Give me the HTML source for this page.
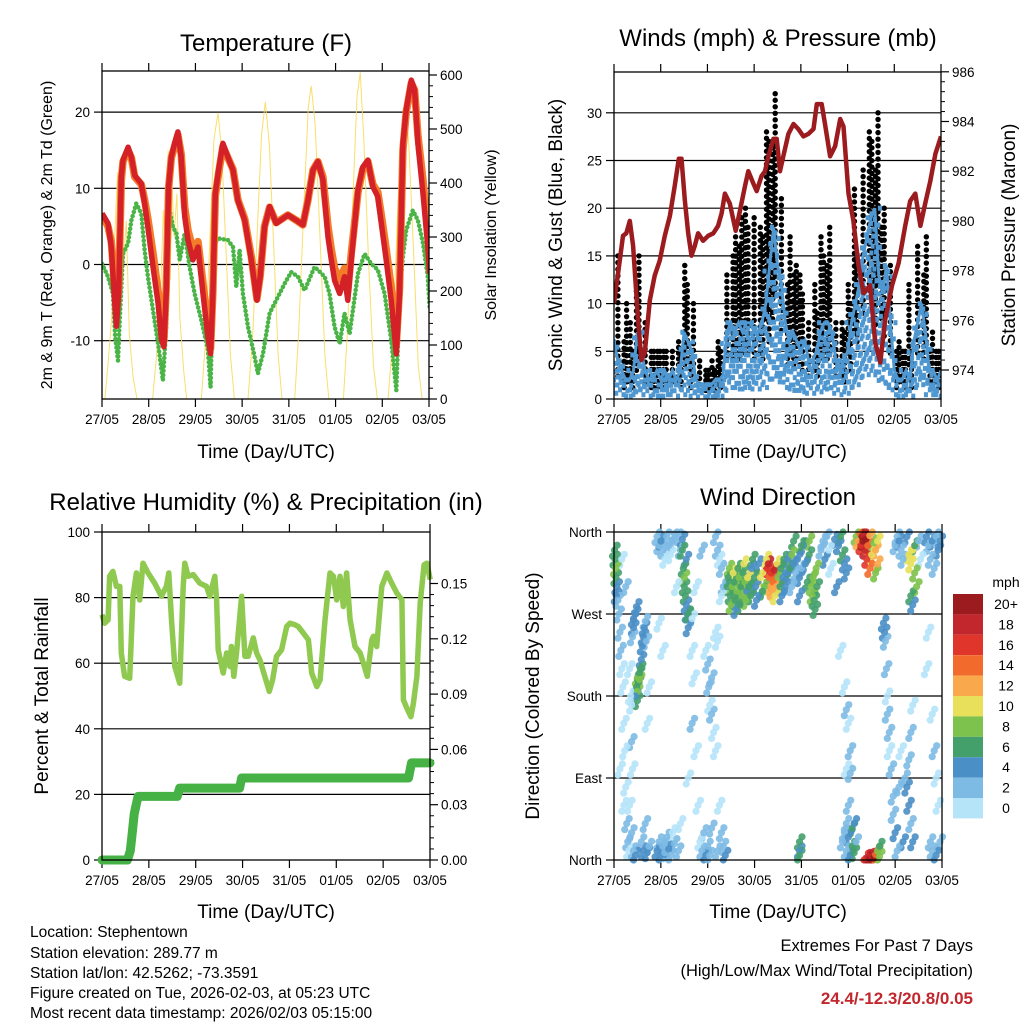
<!DOCTYPE html>
<html><head><meta charset="utf-8">
<style>
html,body{margin:0;padding:0;background:#fff;}
svg{display:block;font-family:"Liberation Sans",Arial,sans-serif;}
</style></head>
<body>
<svg id="fig" width="1024" height="1024" viewBox="0 0 1024 1024" xmlns="http://www.w3.org/2000/svg">
<rect width="1024" height="1024" fill="#fff"/>
<g id="titles" font-size="24" text-anchor="middle" fill="#000">
<text x="266" y="51">Temperature (F)</text>
<text x="778" y="46">Winds (mph) &amp; Pressure (mb)</text>
<text x="266" y="510">Relative Humidity (%) &amp; Precipitation (in)</text>
<text x="778" y="505">Wind Direction</text>
</g>
<g font-size="19" text-anchor="middle">
<text x="266" y="458">Time (Day/UTC)</text>
<text x="778" y="458">Time (Day/UTC)</text>
<text x="266" y="918">Time (Day/UTC)</text>
<text x="778" y="918">Time (Day/UTC)</text>
<text transform="translate(52,235) rotate(-90)" font-size="16">2m &amp; 9m T (Red, Orange) &amp; 2m Td (Green)</text>
<text transform="translate(496,235) rotate(-90)" font-size="16">Solar Insolation (Yellow)</text>
<text transform="translate(562,235) rotate(-90)">Sonic Wind &amp; Gust (Blue, Black)</text>
<text transform="translate(1015,235) rotate(-90)">Station Pressure (Maroon)</text>
<text transform="translate(48,696) rotate(-90)">Percent &amp; Total Rainfall</text>
<text transform="translate(539,696) rotate(-90)">Direction (Colored By Speed)</text>
</g>
<g font-size="15.5" fill="#000">
<text x="30" y="937">Location: Stephentown</text>
<text x="30" y="958">Station elevation: 289.77 m</text>
<text x="30" y="978">Station lat/lon: 42.5262; -73.3591</text>
<text x="30" y="998">Figure created on Tue, 2026-02-03, at 05:23 UTC</text>
<text x="30" y="1018">Most recent data timestamp: 2026/02/03 05:15:00</text>
<text x="973" y="951" text-anchor="end" font-size="16.5">Extremes For Past 7 Days</text>
<text x="973" y="976" text-anchor="end" font-size="16.5">(High/Low/Max Wind/Total Precipitation)</text>
<text x="973" y="1004" text-anchor="end" font-size="17" font-weight="bold" fill="#c1272d">24.4/-12.3/20.8/0.05</text>
</g>
</svg>
<script>
// ---------- DATA ----------
const dayLabels = ['27/05','28/05','29/05','30/05','31/05','01/05','02/05','03/05'];
const tempTicks = [-10,0,10,20];
const solarTicks = [0,100,200,300,400,500,600];
const windTicks = [0,5,10,15,20,25,30];
const pressTicks = [974,976,978,980,982,984,986];
const rhTicks = [0,20,40,60,80,100];
const rainTicks = [0,0.03,0.06,0.09,0.12,0.15];
const rainTickLabels = ['0.00','0.03','0.06','0.09','0.12','0.15'];
const dirTicks = [0,90,180,270,360];
const dirTickLabels = ['North','East','South','West','North'];

const redTimes = [0,3.1,4.8,6.2,7.4,8.6,9.9,10.8,13.4,15.1,16.8,20.2,21.9,23.6,26.2,28.8,30.5,31.8,33.0,34.2,35.6,37.3,39.0,40.7,42.5,44.2,46.7,49.3,51.9,54.4,55.8,57.0,58.2,59.9,62.1,64.7,67.3,69.8,73.3,76.7,79.6,81.3,83.5,86.1,89.5,95.5,99.8,103.2,105.8,108.4,110.9,113.5,116.1,117.8,119.5,122.1,124.6,126.3,128.1,131.5,134.0,136.6,139.2,141.7,143.5,146.0,148.6,151.2,152.9,154.6,156.3,158.9,160.6,162.3,164.9,167.4,168.3];
const redTemp = [6.7,5.4,2.3,-3.8,-8.1,-3.8,11.5,13.7,15.4,14.1,11.7,10.6,8.0,4.9,-0.3,-5.1,-9.9,-10.8,-3.8,10.2,14.1,15.9,17.4,14.1,6.3,3.2,0.6,2.3,-3.8,-9.5,-11.7,-3.8,9.3,12.4,15.9,14.1,12.4,8.4,5.8,0.6,-4.7,-1.6,4.9,7.6,5.4,6.5,5.8,5.2,8.4,12.4,13.5,11.1,3.6,0.6,-2.1,-3.8,-1.6,-4.7,0.6,9.8,12.8,13.7,10.2,8.9,5.4,0.6,-4.7,-11.7,-3.8,15.9,20.3,24.2,22.9,15.9,9.3,2.3,-1.2];
const orangeTemp = [6.5,5.0,3.0,-2.0,-6.0,-3.0,11.0,13.5,15.0,14.0,11.5,10.5,8.5,6.0,1.5,-3.5,-8.0,-10.0,-3.0,10.0,14.0,15.5,17.0,14.5,7.5,4.5,2.0,3.0,-2.5,-8.0,-11.0,-3.5,9.0,12.0,15.5,14.0,12.5,8.5,6.0,1.0,-4.5,-1.5,5.0,7.5,5.5,6.5,5.8,5.2,8.4,12.4,13.5,11.5,5.0,2.0,-0.5,-2.0,-0.5,-3.5,1.5,9.5,12.5,13.5,10.5,9.5,6.5,2.0,-3.0,-10.5,-3.0,15.0,20.0,23.8,22.9,17.0,11.0,4.5,0.5];
const dewTimes = [0,3.1,5.6,6.8,8.2,9.1,10.8,13.4,15.1,17.6,20.2,21.9,23.6,26.2,28.8,31.3,33.0,34.8,36.5,38.2,39.9,42.5,45.0,47.6,51.0,54.4,55.8,57.5,60.4,64.7,67.3,69.0,70.7,72.4,75.0,78.1,80.1,82.7,86.1,89.5,93.8,97.2,100.7,104.1,109.2,114.4,116.9,119.5,122.1,124.6,127.2,131.5,134.9,138.3,141.7,145.2,148.6,151.2,152.9,154.6,156.3,159.7,162.3,164.9,167.4,168.3];
const dewTemp = [0.1,-1.6,-3.8,-9.5,-12.6,-7.3,1.4,2.8,5.8,8.0,6.7,1.9,-1.6,-6.0,-10.4,-15.2,-8.2,7.1,4.9,4.1,0.6,4.1,-0.3,-3.8,-7.3,-11.2,-16.1,2.8,3.4,3.2,2.3,-2.9,1.9,-3.8,-8.2,-11.7,-14.3,-11.7,-6.4,-4.7,-2.5,-1.0,-1.6,-3.4,-0.3,-1.6,-3.8,-8.2,-10.4,-6.4,-9.1,-1.2,1.4,0.1,-0.7,-3.8,-9.9,-16.5,-3.8,1.0,4.5,7.1,5.8,2.8,-1.6,-5.6];
const solarTimes = [0,1.5,3,5,6.5,8,9,10,11,12.5,14,16,18,26,28,30,31.5,33,34,35,36,37,38.5,40,42,43.5,51,53,55.5,57.5,59.6,61.5,64,66,68,75,77.5,80,82,83.9,86,88,90.5,92.5,99,101,104,106,107.5,109.5,112,114.5,116.5,124,126,129,131,132.7,134.5,137,139.5,141.5,147,149.5,152,154,155.8,157.5,160,162.5,164.5,168.5];
const solarVals = [0,0,60,150,300,420,200,430,250,330,120,40,0,0,80,180,350,250,460,220,400,300,380,150,50,0,0,100,300,480,530,460,250,80,0,0,120,330,490,550,470,300,80,0,0,120,380,540,580,510,300,80,0,0,120,380,560,605,480,250,60,0,0,120,360,500,545,480,280,60,0,0];

const windTimes = [0,2,4,6,8,10,12,14,16,18,20,22,24,26,28,30,32,34,36,38,40,42,44,46,48,50,52,54,56,58,60,62,64,66,68,70,72,74,76,78,80,82,84,86,88,90,92,94,96,98,100,102,104,106,108,110,112,114,116,118,120,122,124,126,128,130,132,134,136,138,140,142,144,146,148,150,152,154,156,158,160,162,164,166,168];
const windSpeed = [6,4,3,2,2,3,7,5,3,2,2,3,2,3,2,3,2,3,7,6,5,2,1.5,1.5,1.5,1.5,2,2,2.5,7,8,7,8,7,8,8,7,7,8,10,14,18,14,12,8,6,7,6,5,6,4,4,5,7,8,8,7,4,3,4,5,8,10,12,15,17,19,20,13,11,14,8,3,2,2,3,2,6,8,10,7,3,3,2,3];
const gustSpeed = [12,15,10,6,5,8,15,12,8,5,5,5,5,5,5,5,5,6,12,14,10,5,4,3,3,3,4,5,6,13,17,15,19,16,18,20,19,17,18,27,28,32,27,21,17,12,14,13,11,13,8,9,12,15,17,18,14,8,7,8,10,12,15,22,24,27,28,30,24,20,18,14,6,5,5,5,5,12,16,17,13,7,5,5,5];
const pressTimes = [0,2.1,4.6,6.3,8.1,9.8,12.4,14.1,15.8,18.4,20.9,23.5,26.1,28.7,31.2,33.3,34.7,36.4,38.1,39.8,41.5,43.2,45.8,48.4,51.0,53.5,55.3,57.0,59.5,62.5,64.7,67.3,69.0,71.6,73.3,75.8,77.6,79.3,81.9,83.6,85.3,87.0,89.6,92.2,94.7,97.3,99.9,102.5,104.2,106.7,108.4,111.0,113.6,116.2,117.9,120.5,123.0,125.6,128.2,131.6,134.2,136.8,139.3,142.8,146.2,149.6,152.2,154.8,157.4,159.9,162.5,165.1,168.0];
const pressVals = [976.7,977.9,979.4,979.5,980.0,979.0,976.0,974.4,974.7,976.8,977.8,978.4,979.4,980.2,981.4,982.5,982.5,980.8,979.5,978.6,979.0,979.5,979.2,979.4,979.5,979.8,980.3,981.1,980.7,979.6,980.4,981.4,982.0,981.5,981.2,981.8,982.0,982.6,983.3,983.3,982.0,982.6,983.5,983.9,983.7,983.4,983.5,983.7,984.7,984.7,983.9,982.6,983.0,984.1,983.8,981.1,980.0,978.2,977.1,977.4,975.1,974.3,976.0,977.4,978.3,979.8,980.8,981.1,979.8,980.7,981.6,982.7,983.4];

const rhTimes = [0,1.4,3.1,3.9,5.6,7.4,9.1,9.9,11.6,14.2,15.9,17.6,19.3,21.0,23.6,27.0,30.4,33.0,34.2,35.6,37.3,39.8,41.6,42.4,44.1,46.7,50.1,53.5,55.2,57.8,58.7,59.5,62.1,63.8,65.5,66.3,67.5,68.9,71.5,73.2,74.9,77.5,79.2,80.9,83.4,85.7,87.4,89.4,92.0,94.6,96.3,98.8,100.5,103.1,105.7,107.4,110.0,111.7,114.2,116.8,118.5,120.2,121.9,123.6,125.3,127.1,129.6,132.2,133.9,135.9,138.2,139.0,140.7,143.3,145.9,148.4,151.0,153.6,154.4,156.1,158.2,159.5,161.3,163.0,165.0,166.4,168.1];
const rhVals = [74.8,72.2,73.2,86.5,88.0,83.4,83.4,63.1,56.0,55.4,80.4,87.5,79.3,90.5,87.5,84.4,80.4,83.4,87.5,73.2,59.0,53.9,83.4,90.5,86.5,87.0,84.4,83.4,80.4,86.5,79.3,64.1,57.0,63.1,59.0,65.1,56.0,63.1,80.4,62.1,62.1,67.7,63.1,61.0,56.0,51.4,54.9,62.1,64.1,71.2,72.2,71.7,71.2,69.2,67.1,57.0,52.9,54.9,73.2,87.5,86.5,79.3,86.5,77.3,87.5,73.2,65.1,63.1,60.0,56.0,67.1,68.2,65.1,83.4,87.5,84.4,81.4,79.3,48.8,46.3,43.7,47.8,56.0,78.3,90.0,90.5,85.5];
const rainTimes = [0,13,14.5,15.5,16.5,17.5,18.5,38.5,39.8,70.5,71.5,157,158.5,168];
const rainVals = [0,0,0.005,0.015,0.025,0.03,0.0345,0.0345,0.039,0.039,0.0445,0.0445,0.0527,0.0527];

const dirTimes = [0.5,0.8,1.0,1.5,0.3,1.2,2,2.5,3,3.5,4,4.5,5,5.5,6,6.5,7,7.5,4,6,3,5,10,10,9.5,11,11.5,11.6,12,12.5,13,13.5,12,13,14,14.5,15,15.5,16,16.5,12,11,8,8.5,9,9,9.5,8,9,10,11,14,15,16,17,18,17,18,22,23,24,25,26,27,28,29,30,31,33,34,32,23,25,22,23,24,25,26,27,28,29,30,31,33,34,35,35.5,36,36.5,37,37.5,36,37,38,38,35,40,41,42,43,38,40,44,45,46,47,48,40,42,45,47,48,48.5,49,50,50,51,52,52,53,54,55,56,57,53,50,49,52,53,54,55,56,55,58,58.5,59,59.5,60,60.5,61,61.5,62,62.5,63,63.5,64,64.5,65,65.5,66,66.5,67,67.5,68,68.5,69,70,70.5,71,72,72.5,73,78,78.5,79,79.5,80,80.5,81,81.5,82,82.5,83,83.5,84,85,85.5,86,86.5,87,88,89,77,76,75,74,89,90,91,92,93,94,95,96,97,98,99,100,101,101.5,102,102.5,103,103.5,104,100,96,91,95,92,95,95,95,106,107,108,109,110,111,113,115,116,117,118,119,114,116,118,119,120,121,119,121,120,119,118,117,119,121,120,122,122,123,124,123,124,125,126,126.5,127,127.5,128,128.5,129,129.5,130,131,132,131,133,134,135,134,135,129,130,131,132,133,134,135,136,136,138,138.5,139,139.5,140,140,141,141,142,143,143,144,145,144,145,146,147,148,147,146,148,151,152,153,154,155,154,152,153,150,156,157,150,151,152,153,151,152,153,149,160,161,162,163,164,165,166,167,163,164,165,166,162,163,165,167,160,161];
const dirVals = [330,320,310,300,340,290,285,270,250,230,210,190,150,120,80,40,20,10,330,300,100,60,255,265,245,270,278,190,200,195,205,210,185,198,220,235,245,255,262,240,175,180,210,180,170,130,100,60,30,10,5,20,10,40,8,15,150,190,355,345,350,340,330,355,345,335,350,358,355,340,300,260,230,10,20,5,15,8,25,12,5,30,18,10,40,340,320,300,290,280,270,310,330,255,270,352,230,200,120,60,90,150,20,10,30,5,15,265,300,340,230,215,190,170,200,160,140,120,250,240,60,30,15,5,10,35,5,355,340,330,320,300,290,300,310,320,290,280,300,315,305,285,275,295,320,310,280,300,290,315,325,305,285,295,310,300,290,320,330,310,300,285,330,320,325,310,300,315,295,305,318,290,300,325,310,300,320,290,310,330,300,315,300,295,310,325,330,320,335,325,315,330,310,320,345,325,305,335,300,290,310,285,275,320,300,350,345,300,290,350,20,10,5,340,350,330,355,340,320,352,345,355,335,325,315,300,230,190,165,150,120,100,95,60,40,30,20,10,5,25,15,35,8,20,40,355,350,358,345,355,350,357,340,352,330,345,356,335,320,348,340,325,315,350,2,3,1,4,2,6,10,4,15,260,250,240,210,180,160,140,120,100,70,50,30,10,345,355,350,340,330,120,80,20,335,325,340,315,300,345,290,280,355,350,330,80,60,40,20,110,140,170,90,355,345,330,350,320,355,340,350,160,120,90,60,20,10,5,20,210,250];
const dirSpeed = [7,8,6,5,7,4,3,2,2,3,1,0,1,0,1,2,3,1,1,2,1,0,4,4,3,4,4,7,8,6,7,6,9,8,4,4,4,4,3,3,7,5,1,0,1,2,1,1,2,3,4,3,4,2,4,3,0,1,3,2,4,2,1,3,2,1,3,2,2,3,1,1,0,4,3,4,2,3,2,4,3,1,2,3,1,6,7,6,6,5,5,8,4,4,7,5,1,1,1,1,1,2,1,3,2,4,2,1,0,2,1,2,2,1,3,2,1,0,1,0,1,3,2,4,3,2,3,2,3,1,2,2,1,6,7,9,6,8,9,10,7,6,5,8,6,9,7,6,8,6,10,9,8,5,10,6,7,5,7,6,4,5,10,16,18,14,12,17,12,15,19,11,13,10,8,6,6,5,4,6,5,4,8,6,10,5,4,6,8,4,3,4,4,3,5,4,6,7,8,8,9,7,6,8,7,8,7,3,5,6,6,4,6,2,3,4,2,1,1,4,5,6,7,5,4,4,1,1,2,1,3,1,2,2,3,2,2,3,4,4,6,7,7,3,4,8,12,14,17,20,21,19,18,20,16,14,12,10,15,9,12,12,8,10,17,19,20,18,21,14,9,8,6,4,4,3,2,1,2,2,1,2,3,3,4,2,2,3,4,2,3,1,2,4,10,10,11,9,8,6,6,5,4,3,1,4,4,3,4,2,2,1,2,4,2,3,4,2,3,4,4,1,2,1,1,2,3,4,2,1,1];
const speedBinLabels = ['0','2','4','6','8','10','12','14','16','18','20+'];
const speedColors = ['#b5e3f8','#7dbae4','#4a8fc6','#44a06b','#7dc24c','#e8e05a','#f9a94b','#f26a2c','#e0352b','#c1272d','#9b1b1e'];

// ---------- HELPERS ----------
const NS='http://www.w3.org/2000/svg';
const svg=document.getElementById('fig');
function mk(tag, attrs, parent){const e=document.createElementNS(NS,tag);for(const k in attrs)e.setAttribute(k,attrs[k]);(parent||svg).appendChild(e);return e;}
function pathFrom(xs,ys,fx,fy){let d='';for(let i=0;i<xs.length;i++){d+=(i?'L':'M')+fx(xs[i]).toFixed(1)+','+fy(ys[i]).toFixed(1);}return d;}

function panel(id,x0,y0,x1,y1,fx,leftTicks,leftLabels,fyL,rightTicks,rightLabels,fyR,grid){
  const g=mk('g',{});
  
  
  if(grid){leftTicks.forEach(v=>{const y=fyL(v);if(y>y0+1&&y<y1-1){const l=mk('line',{x1:x0,x2:x1,y1:y,y2:y,stroke:'#000','stroke-width':1.2},g);
    
    }});}
  for(let d=0;d<=7;d++){const x=fx(d*24);
    mk('line',{x1:x,x2:x,y1:y1,y2:y1+8,stroke:'#000','stroke-width':1.2},g);
    mk('line',{x1:x,x2:x,y1:y0,y2:y0-8,stroke:'#000','stroke-width':1.2},g);
    const t=mk('text',{x:x,y:y1+25,'text-anchor':'middle','font-size':13.5},g);t.textContent=dayLabels[d];
    
    }
  leftTicks.forEach((v,i)=>{const y=fyL(v);mk('line',{x1:x0-8,x2:x0,y1:y,y2:y,stroke:'#000','stroke-width':1.2},g);
    const t=mk('text',{x:x0-12,y:y+5,'text-anchor':'end','font-size':13.5},g);t.textContent=leftLabels[i];
    
    });
  if(rightTicks){rightTicks.forEach((v,i)=>{const y=fyR(v);mk('line',{x1:x1,x2:x1+8,y1:y,y2:y,stroke:'#000','stroke-width':1.2},g);
    const t=mk('text',{x:x1+11,y:y+5,'text-anchor':'start','font-size':13.5},g);t.textContent=rightLabels[i];
    
    
    if(i<rightTicks.length-1){const yn=fyR(rightTicks[i+1]);for(let k=1;k<5;k++){const ym=y+(yn-y)*k/5;if(ym>y0)mk('line',{x1:x1,x2:x1+4,y1:ym,y2:ym,stroke:'#000','stroke-width':1},g);}}});}
  return g;
}
function frame(id,x0,y0,x1,y1){const r=mk('rect',{x:x0,y:y0,width:x1-x0,height:y1-y0,fill:'none',stroke:'#000','stroke-width':1.3});
  
  }

// ---------- PANEL 1: TEMPERATURE ----------
const p1x=h=>102+h/168*327, p1y=t=>264.5-t*7.62, p1s=s=>399-s*0.54;
panel('temperature',102,71,429,399,p1x,tempTicks,tempTicks.map(String),p1y,solarTicks,solarTicks.map(String),p1s,true);
const clip1=mk('clipPath',{id:'c1'});mk('rect',{x:102,y:71,width:327,height:328},clip1);
const g1=mk('g',{'clip-path':'url(#c1)'});


const solar=mk('path',{d:pathFrom(solarTimes,solarVals,p1x,p1s),fill:'none',stroke:'#f7dc5a','stroke-width':1,'stroke-opacity':0.9},g1);


const dew=mk('path',{d:pathFrom(dewTimes,dewTemp,p1x,p1y),fill:'none',stroke:'#4bb446','stroke-width':4.5,'stroke-linecap':'round','stroke-dasharray':'0.1 4.2'},g1);


const orange=mk('path',{d:pathFrom(redTimes,orangeTemp,p1x,p1y),fill:'none',stroke:'#f47b2a','stroke-width':7.5,'stroke-linejoin':'round'},g1);


const red=mk('path',{d:pathFrom(redTimes,redTemp,p1x,p1y),fill:'none',stroke:'#d42127','stroke-width':5.5,'stroke-linejoin':'round'},g1);


frame('temperature',102,71,429,399);

// ---------- PANEL 2: WINDS ----------
const p2x=h=>614+h/168*327, p2w=w=>399-w*9.54, p2p=p=>370-(p-974)*24.85;
panel('winds',614,72,941,399,p2x,windTicks,windTicks.map(String),p2w,pressTicks,pressTicks.map(String),p2p,true);
const clip2=mk('clipPath',{id:'c2'});mk('rect',{x:614,y:72,width:327,height:327},clip2);
const g2=mk('g',{'clip-path':'url(#c2)'});


for(let i=0;i<windTimes.length;i++){
  const span=gustSpeed[i]-windSpeed[i]*0.6;const n=Math.max(2,Math.ceil(span/0.7));
  for(let k=0;k<=n;k++){const v=windSpeed[i]*0.6+span*k/n;const dx=((k*7+i*3)%7-3)*1.6;
    const c=mk('circle',{cx:p2x(windTimes[i])+dx,cy:p2w(v),r:2.7,fill:'#000'},g2);
    
    }
}
for(let i=0;i<windTimes.length;i++){
  const lo=windSpeed[i]*0.15, span=windSpeed[i]-lo;const n=Math.max(2,Math.ceil(span/0.6));
  for(let k=0;k<=n;k++){const v=lo+span*k/n;const dx=((k*5+i*2)%7-3)*1.7;
    const c=mk('rect',{x:p2x(windTimes[i])+dx-2,y:p2w(v)-2.5,width:4,height:5,fill:'#4f97d1'},g2);
    
    }
}
const wline=mk('path',{d:pathFrom(windTimes,windSpeed,p2x,p2w),fill:'none',stroke:'#4f97d1','stroke-width':3},g2);


const pl=mk('path',{d:pathFrom(pressTimes,pressVals,p2x,p2p),fill:'none',stroke:'#9b1b1e','stroke-width':4.5,'stroke-linejoin':'round'},g2);


frame('winds',614,72,941,399);

// ---------- PANEL 3: HUMIDITY ----------
const p3x=h=>102+h/168*328, p3y=r=>860-r*3.28, p3r=v=>860-v/0.03*55.3;
panel('humidity',102,532,430,860,p3x,rhTicks,rhTicks.map(String),p3y,rainTicks,rainTickLabels,p3r,true);
const clip3=mk('clipPath',{id:'c3'});mk('rect',{x:90,y:532,width:352,height:340},clip3);
const g3=mk('g',{'clip-path':'url(#c3)'});


const rh=mk('path',{d:pathFrom(rhTimes,rhVals,p3x,p3y),fill:'none',stroke:'#8fc94f','stroke-width':5.5,'stroke-linejoin':'round'},g3);


const rain=mk('path',{d:pathFrom(rainTimes,rainVals,p3x,p3r),fill:'none',stroke:'#46b145','stroke-width':9,'stroke-linejoin':'round','stroke-linecap':'round'},g3);


frame('humidity',102,532,430,860);

// ---------- PANEL 4: WIND DIRECTION ----------
const p4x=h=>614+h/168*328, p4y=d=>860-d/360*328;
panel('direction',614,532,942,860,p4x,dirTicks,dirTickLabels,p4y,null,null,null,true);
const g4=mk('g',{});


const jit=[[0,0],[2.5,-5],[-2,6]];
for(let j=2;j>=0;j--){
for(let i=0;i<dirTimes.length;i++){
  const bin=Math.min(10,Math.max(0,Math.floor(dirSpeed[i]/2)));
  const c=mk('circle',{cx:(p4x(dirTimes[i])+jit[j][0]).toFixed(1),cy:Math.min(860,Math.max(532,p4y(dirVals[i])+jit[j][1])).toFixed(1),r:3.6,fill:speedColors[bin],'fill-opacity':0.9},g4);
  
  
}}
frame('direction',614,532,942,860);

// legend
const lg=mk('g',{});


const lt=mk('text',{x:1006,y:587,'text-anchor':'middle','font-size':14},lg);lt.textContent='mph';


for(let i=0;i<11;i++){
  const j=10-i;const y=594+i*20.4;
  const r=mk('rect',{x:953,y:y,width:30,height:20.4,fill:speedColors[j]},lg);
  
  
  const t=mk('text',{x:1006,y:y+15,'text-anchor':'middle','font-size':14},lg);t.textContent=speedBinLabels[j];
  
  
}
</script>
</body></html>
